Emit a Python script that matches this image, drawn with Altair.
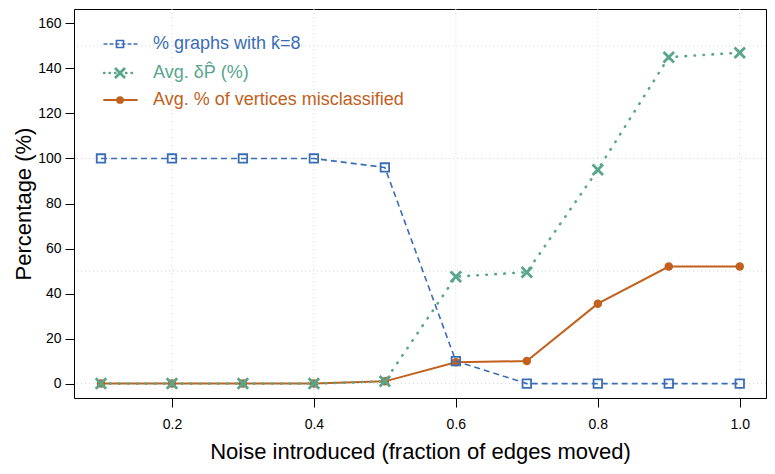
import altair as alt
import pandas as pd

# ---- data ----
noise = [0.1, 0.2, 0.3, 0.4, 0.5, 0.6, 0.7, 0.8, 0.9, 1.0]
pct_k8 = [100, 100, 100, 100, 96, 10, 0, 0, 0, 0]
avg_dp = [0, 0, 0, 0, 1, 47.5, 49.5, 95, 145, 147]
avg_mis = [0, 0, 0, 0, 1, 9.5, 10, 35.5, 52, 52]

series_labels = ["% graphs with k\u0302=8", "Avg. \u03b4P\u0302 (%)", "Avg. % of vertices misclassified"]
colors = ["#3b6db5", "#58a68d", "#c1611d"]

x_ticks = [0.2, 0.4, 0.6, 0.8, 1.0]
y_ticks = [0, 20, 40, 60, 80, 100, 120, 140, 160]
grid_x = [0.2, 0.4, 0.6, 0.8, 1.0]
grid_y = [0, 50, 100, 150]

x_title = "Noise introduced (fraction of edges moved)"
y_title = "Percentage (%)"

# ---- layout ----
W, H = 692, 389
FONT = "Liberation Sans"

df = pd.DataFrame({"noise": noise, "k8": pct_k8, "dp": avg_dp, "mis": avg_mis})

xscale = alt.Scale(domain=[0.062, 1.037], nice=False, zero=False)
yscale = alt.Scale(domain=[-6.4, 166.4], nice=False, zero=False)

x_axis = alt.Axis(values=x_ticks, format=".1f", title=x_title, labelFontSize=14,
                  titleFontSize=22, tickSize=9, labelPadding=10, titlePadding=10,
                  domain=False, grid=False, labelFlush=False, labelOverlap=False)
y_axis = alt.Axis(values=y_ticks, format="d", title=y_title, labelFontSize=14,
                  titleFontSize=22, tickSize=9, labelPadding=4, titlePadding=2,
                  domain=False, grid=False, labelOverlap=False)


def X(field):
    return alt.X(field, scale=xscale, axis=x_axis, title=x_title)


def Y(field):
    return alt.Y(field, scale=yscale, axis=y_axis, title=y_title)


vgrid = alt.Chart(pd.DataFrame({"g": grid_x})).mark_rule(
    color="#d6d6d6", strokeDash=[1, 3], strokeWidth=1
).encode(x=X("g:Q"))

hgrid = alt.Chart(pd.DataFrame({"g": grid_y})).mark_rule(
    color="#d6d6d6", strokeDash=[1, 3], strokeWidth=1
).encode(y=Y("g:Q"))

x_shape = "M-1,-1L1,1M1,-1L-1,1"

# orange (misclassified)
mis_line = alt.Chart(df).mark_line(color=colors[2], strokeWidth=2).encode(
    x=X("noise:Q"), y=Y("mis:Q"))
mis_pts = alt.Chart(df).mark_point(shape="circle", filled=True, size=72,
                                   color=colors[2], opacity=1).encode(
    x=X("noise:Q"), y=Y("mis:Q"))

# blue (k = 8)
k8_line = alt.Chart(df).mark_line(color=colors[0], strokeWidth=1.6,
                                  strokeDash=[6, 4]).encode(
    x=X("noise:Q"), y=Y("k8:Q"))
k8_pts = alt.Chart(df).mark_point(shape="square", filled=False, size=72,
                                  strokeWidth=1.8, color=colors[0], opacity=1).encode(
    x=X("noise:Q"), y=Y("k8:Q"))

# teal (delta P)
dp_line = alt.Chart(df).mark_line(color=colors[1], strokeWidth=2.6,
                                  strokeDash=[0.5, 8.5], strokeCap="round").encode(
    x=X("noise:Q"), y=Y("dp:Q"))
dp_pts = alt.Chart(df).mark_point(shape=x_shape, filled=False, size=110,
                                  strokeWidth=2.8, color=colors[1], opacity=1).encode(
    x=X("noise:Q"), y=Y("dp:Q"))

# ---- legend (drawn by hand, top-left inside the plot) ----
leg_rows = [35, 64, 91]
leg_dash = [[3, 3], [0.5, 5], [1, 0]]
leg_width = [1.3, 2.4, 1.8]
leg_shapes = ["square", x_shape, "circle"]
leg_filled = [False, False, True]
leg_sizes = [50, 100, 60]
leg_sw = [1.6, 2.8, 1]

legend_layers = []
for i in range(3):
    ld = pd.DataFrame({"label": [series_labels[i]]})
    base = alt.Chart(ld)
    legend_layers.append(base.mark_rule(color=colors[i], strokeWidth=leg_width[i],
                                        strokeDash=leg_dash[i], strokeCap="round").encode(
        x=alt.value(30), x2=alt.value(63), y=alt.value(leg_rows[i])))
    legend_layers.append(base.mark_point(shape=leg_shapes[i], filled=leg_filled[i],
                                         size=leg_sizes[i], strokeWidth=leg_sw[i],
                                         color=colors[i], opacity=1).encode(
        x=alt.value(46), y=alt.value(leg_rows[i])))
    legend_layers.append(base.mark_text(align="left", baseline="middle", fontSize=18,
                                        font=FONT, color=colors[i]).encode(
        x=alt.value(79), y=alt.value(leg_rows[i]), text="label:N"))

chart = alt.layer(
    vgrid, hgrid, mis_line, mis_pts, k8_line, k8_pts, dp_line, dp_pts, *legend_layers
).properties(
    width=W, height=H,
    autosize=alt.AutoSizeParams(type="none"),
    padding={"left": 66, "top": 1, "right": 1, "bottom": 66},
).configure(
    font=FONT, background="white"
).configure_view(
    stroke="black", strokeWidth=1
).configure_axis(
    labelColor="black", tickColor="black", titleColor="black",
    titleFontWeight="normal", labelFont=FONT, titleFont=FONT, tickWidth=1
)

chart.save("out.html", embed_options={"renderer": "svg", "actions": False})
